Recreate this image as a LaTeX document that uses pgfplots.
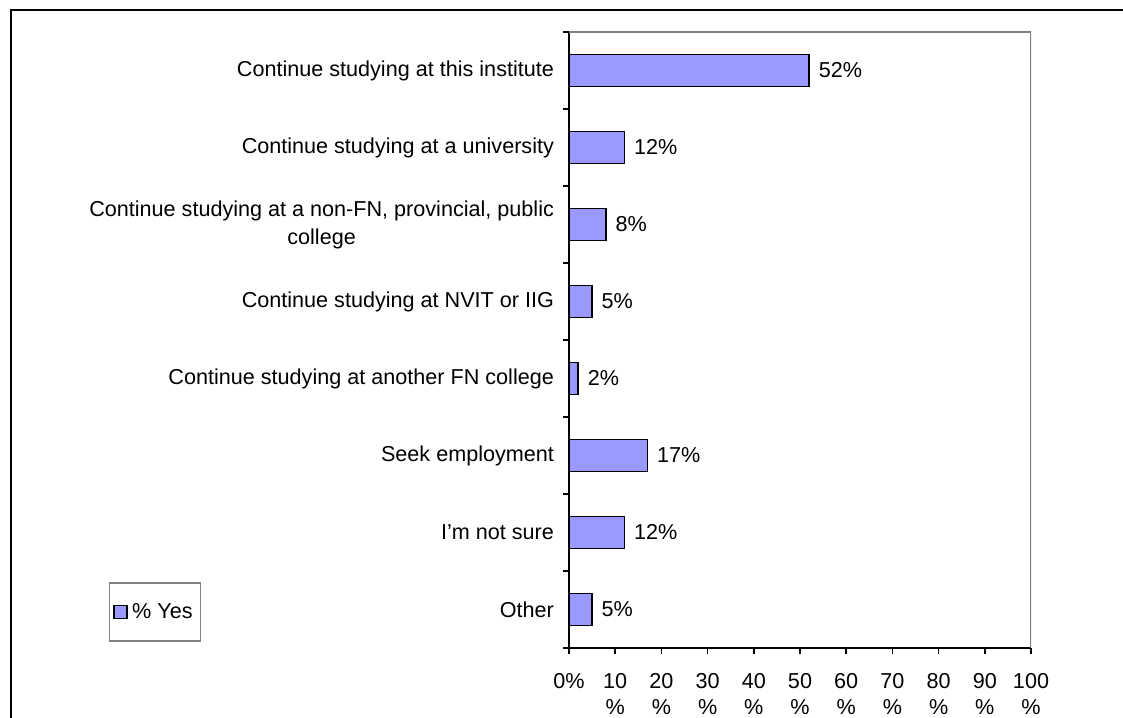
\documentclass[border=0pt]{standalone}
\usepackage{fontspec}
\setmainfont{Liberation Sans}
\usepackage{pgfplots}
\pgfplotsset{compat=1.18}
\definecolor{barfill}{RGB}{153,153,255}
\definecolor{framegray}{RGB}{128,128,128}

\begin{document}
\begin{tikzpicture}
\useasboundingbox (0,0) rectangle (561.5pt,358.5pt);
\clip (0,0) rectangle (561.5pt,358.5pt);
% outer chart frame (cut by the picture edges)
\draw[line width=1pt] (5.5pt,-10pt) rectangle (575pt,353.5pt);
\begin{axis}[
    at={(284.5pt,34.5pt)}, anchor=south west,
    scale only axis,
    width=231pt, height=308pt,
    xbar,
    bar width=16pt,
    xmin=0, xmax=100,
    ymin=-0.5, ymax=7.5,
    enlargelimits=false,
    axis x line*=bottom, axis y line*=left,
    axis line style={-, line width=1pt, black},
    tick align=outside,
    major tick length=3pt,
    tick style={black, line width=0.8pt},
    font=\fontsize{10.8}{14}\selectfont,
    /pgf/number format/assume math mode=true,
    xtick={0,10,...,100},
    xticklabels={0\%,10\\\%,20\\\%,30\\\%,40\\\%,50\\\%,60\\\%,70\\\%,80\\\%,90\\\%,100\\\%},
    xticklabel style={align=center, yshift=-6pt, font=\fontsize{10.8}{13}\selectfont},
    ytick={-0.5,0.5,...,7.5},
    yticklabels={},
    extra y ticks={0,1,2,3,4,5,6,7},
    extra y tick labels={Other, I'm not sure, Seek employment,
        Continue studying at another FN college,
        Continue studying at NVIT or IIG,
        {Continue studying at a non-FN, provincial, public\\college},
        Continue studying at a university,
        Continue studying at this institute},
    extra y tick style={major tick length=0pt},
    yticklabel style={align=center, xshift=-4pt},
    nodes near coords={\pgfmathprintnumber{\pgfplotspointmeta}\%},
    nodes near coords align={horizontal},
    every node near coord/.append style={xshift=1pt},
    legend style={at={(-0.896,0.0584)}, anchor=center, draw=framegray,
        line width=0.8pt, inner xsep=2pt, inner ysep=8pt},
    legend image code/.code={\draw[#1] (0pt,-3.25pt) rectangle (6.5pt,3.25pt);},
]
\addplot[fill=barfill, draw=black, line width=0.9pt]
    coordinates {(5,0) (12,1) (17,2) (2,3) (5,4) (8,5) (12,6) (52,7)};
\addlegendentry{\% Yes}
\draw[framegray, line width=1pt] (rel axis cs:0,1) -- (rel axis cs:1,1) -- (rel axis cs:1,0);
\end{axis}
\end{tikzpicture}
\end{document}
